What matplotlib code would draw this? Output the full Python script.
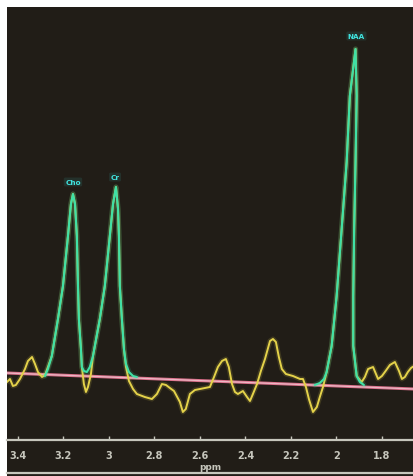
import matplotlib
matplotlib.use("Agg")
import matplotlib.pyplot as plt
from matplotlib.lines import Line2D
from matplotlib.patches import Rectangle

# ---- data (ppm, arbitrary intensity) ----
spec_ppm = [3.448, 3.435, 3.422, 3.409, 3.391, 3.369, 3.356, 3.338, 3.325, 3.312,
            3.294, 3.281, 3.268, 3.251, 3.224, 3.202, 3.180, 3.167, 3.158, 3.149,
            3.141, 3.136, 3.132, 3.123, 3.119, 3.110, 3.101, 3.092, 3.079, 3.070,
            3.040, 3.018, 2.996, 2.982, 2.969, 2.960, 2.956, 2.952, 2.943, 2.934,
            2.925, 2.912, 2.894, 2.877, 2.842, 2.811, 2.789, 2.767, 2.749, 2.732,
            2.714, 2.688, 2.675, 2.662, 2.644, 2.622, 2.600, 2.578, 2.556, 2.538,
            2.521, 2.503, 2.486, 2.473, 2.459, 2.446, 2.433, 2.411, 2.393, 2.380,
            2.367, 2.349, 2.332, 2.314, 2.292, 2.279, 2.266, 2.253, 2.240, 2.222,
            2.191, 2.160, 2.147, 2.134, 2.121, 2.103, 2.086, 2.073, 2.059, 2.043,
            2.021, 1.999, 1.977, 1.955, 1.941, 1.916, 1.911, 1.916, 1.922, 1.926,
            1.926, 1.911, 1.889, 1.875, 1.861, 1.839, 1.817, 1.800, 1.787, 1.765,
            1.743, 1.725, 1.712, 1.699, 1.686, 1.672, 1.659]
spec_int = [0.2, 0.5, -0.2, -0.1, 0.5, 1.5, 2.3, 2.7, 2.0, 1.2,
            0.7, 0.9, 1.7, 2.8, 6.5, 9.8, 14.8, 18.0, 19.0, 18.0,
            14.8, 9.8, 6.5, 3.5, 1.7, 0.0, -0.8, -0.3, 1.0, 2.8,
            6.5, 9.8, 14.8, 18.0, 19.7, 17.5, 14.8, 9.8, 6.5, 3.5,
            1.7, 0.3, -0.5, -1.0, -1.3, -1.5, -1.0, 0.0, -0.1, -0.4,
            -0.7, -1.8, -2.8, -2.5, -1.0, -0.6, -0.5, -0.4, -0.3, 0.7,
            1.7, 2.3, 2.5, 1.7, 0.0, -0.8, -1.0, -0.7, -1.3, -1.7,
            -1.0, 0.0, 1.3, 2.5, 4.3, 4.5, 4.2, 2.7, 1.5, 1.0,
            0.8, 0.5, 0.5, -0.3, -1.5, -2.8, -2.3, -1.3, -0.3, 1.2,
            3.8, 8.8, 15.5, 22.2, 28.8, 33.5, 28.8, 22.2, 15.5, 8.8,
            3.8, 0.8, 0.2, 0.7, 1.5, 1.7, 0.5, 0.8, 1.2, 1.9,
            2.2, 1.3, 0.5, 0.7, 1.2, 1.6, 1.8]

fit1_ppm = [3.281, 3.268, 3.251, 3.224, 3.202, 3.180, 3.167, 3.158, 3.149, 3.141,
            3.136, 3.132, 3.123, 3.119, 3.110, 3.097, 3.084, 3.070, 3.040, 3.018,
            2.996, 2.982, 2.969, 2.960, 2.956, 2.952, 2.943, 2.934, 2.925, 2.912,
            2.894, 2.877]
fit1_int = [0.8, 1.5, 2.8, 6.5, 9.8, 14.8, 18.0, 19.0, 18.0, 14.8,
            9.8, 6.5, 3.5, 1.7, 1.3, 1.2, 1.7, 2.8, 6.5, 9.8,
            14.8, 18.0, 19.7, 17.5, 14.8, 9.8, 6.5, 3.5, 2.0, 1.2,
            0.8, 0.7]

fit2_ppm = [2.095, 2.073, 2.055, 2.043, 2.021, 1.999, 1.977, 1.955, 1.941, 1.916,
            1.911, 1.916, 1.922, 1.926, 1.926, 1.911, 1.897, 1.879]
fit2_int = [-0.1, 0.1, 0.5, 1.2, 3.8, 8.8, 15.5, 22.2, 28.8, 33.5,
            28.8, 22.2, 15.5, 8.8, 3.8, 0.8, 0.2, -0.1]

base_ppm = [3.448, 1.659]
base_int = [1.1, -0.5]

peak_names = ["Cho", "Cr", "NAA"]
peak_ppm = [3.158, 2.973, 1.912]
peak_lab_int = [20.2, 20.7, 34.8]

tick_vals = [3.4, 3.2, 3.0, 2.8, 2.6, 2.4, 2.2, 2.0, 1.8]
tick_labels = ["3.4", "3.2", "3", "2.8", "2.6", "2.4", "2.2", "2", "1.8"]

# ---- styling ----
BG = "#211d17"
YEL = "#e4d24a"
GRN = "#3fe0a6"
CYAN = "#40e4e0"
PINK = "#ee7896"
AXC = "#c6c6bc"

W, H = 414, 477
fig = plt.figure(figsize=(W / 100, H / 100), dpi=100)
fig.patch.set_facecolor("white")
fig.add_artist(Rectangle((7 / W, 0), 1 - 7 / W, (H - 8) / H,
                         transform=fig.transFigure, facecolor=BG,
                         edgecolor="none", zorder=0))

ax = fig.add_axes([7 / W, (H - 441) / H, 407 / W, 433 / H])
ax.set_facecolor(BG)
ax.set_xlim(3.448, 1.659)
ax.set_ylim(-5.6, 37.7)

def glow(x, y, color, lw=1.4, z=3):
    ax.plot(x, y, color=color, lw=lw * 2.6, alpha=0.16, zorder=z,
            solid_joinstyle="round", solid_capstyle="round")
    ax.plot(x, y, color=color, lw=lw, zorder=z + 0.1,
            solid_joinstyle="round", solid_capstyle="round")

# baseline
ax.plot(base_ppm, base_int, color=PINK, lw=2.2, alpha=0.9, zorder=2)
ax.plot(base_ppm, base_int, color="white", lw=0.9, alpha=0.5, zorder=2.1)

glow(spec_ppm, spec_int, YEL, lw=1.4, z=3)
glow(fit1_ppm, fit1_int, GRN, lw=1.5, z=4)
glow(fit2_ppm, fit2_int, GRN, lw=1.5, z=4)

for name, px, py in zip(peak_names, peak_ppm, peak_lab_int):
    ax.text(px, py, name, color=CYAN, fontsize=5.2, fontweight="bold",
            ha="center", va="center", zorder=6,
            bbox=dict(boxstyle="round,pad=0.2", fc=CYAN, ec="none", alpha=0.1))

for s in ["top", "right", "left"]:
    ax.spines[s].set_visible(False)
ax.spines["bottom"].set_color(AXC)
ax.spines["bottom"].set_linewidth(1.6)
ax.set_yticks([])
ax.set_xticks(tick_vals)
ax.set_xticklabels(tick_labels)
ax.tick_params(axis="x", direction="in", length=3, width=1, color=AXC,
               labelsize=7, labelcolor=AXC, pad=7)
for t in ax.get_xticklabels():
    t.set_fontweight("bold")
ax.set_xlabel("ppm", color=AXC, fontsize=6.5, fontweight="bold", labelpad=2)

fig.add_artist(Line2D([7 / W, 1], [3.5 / H, 3.5 / H], transform=fig.transFigure,
                      color=AXC, lw=1.6, zorder=5))

fig.savefig("out.png", dpi=100, facecolor=fig.get_facecolor())
